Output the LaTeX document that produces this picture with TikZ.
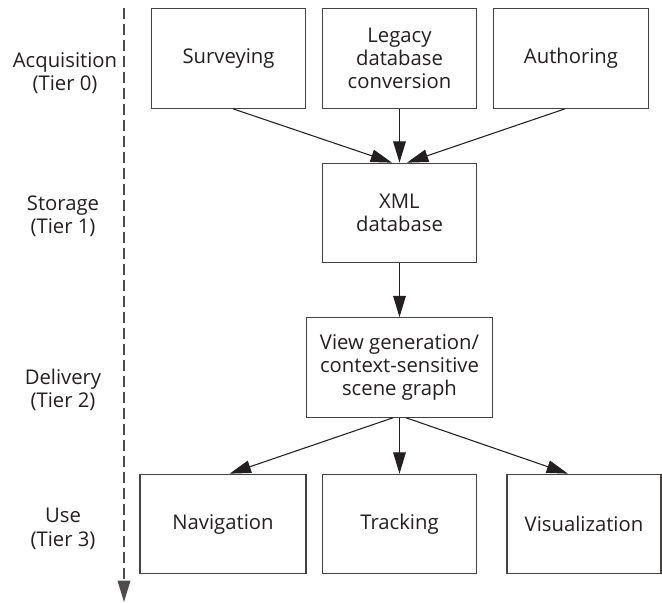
\documentclass[tikz,border=0pt]{standalone}
\usepackage{fontspec}
\setmainfont{Open Sans}
\usetikzlibrary{arrows.meta}
\usetikzlibrary{positioning}

\definecolor{ink}{HTML}{231F20}

\begin{document}
\begin{tikzpicture}[x=0.75pt,y=-0.75pt,
                    every node/.style={text=ink,
                      font=\fontsize{15.2}{17.5}\selectfont,
                      align=center},
                    box/.style={draw=ink!85,
                      line width=0.9pt,
                      rectangle,
                      minimum width = 116pt,
                      minimum height = 74.6pt},
                    arr/.style={draw=ink,line width=0.8pt,
                      -{Triangle[length=16pt,width=9.5pt]}}]
\useasboundingbox (0,0) rectangle (662,603);
% tier axis
\coordinate (top) at (124,8);
\coordinate (bot) at (124,602);
\draw[arr,dash pattern=on 8pt off 4pt,draw=ink!80] (top) -- (bot);
\node (t0) at (65,73) {Acquisition\\(Tier 0)};
\node (t1) at (63,216) {Storage\\(Tier 1)};
\node (t2) at (63,390) {Delivery\\(Tier 2)};
\node (t3) at (63,529) {Use\\(Tier 3)};
% tier 0
\node (s) [box] at (228.5,58.5) {Surveying};
\node (l) [box] at (399.5,58.5) {Legacy\\database\\conversion};
\node (a) [box] at (571,58.5) {Authoring};
% tier 1 and 2
\node (x) [box] at (399.5,213) {XML\\database};
\node (v) [box,minimum width=140pt] at (399.5,367.5)
  {View generation/\\context-sensitive\\scene graph};
% tier 3
\node (n) [box,minimum width=124.5pt] at (223,524) {Navigation};
\node (t) [box] at (399.5,524) {Tracking};
\node (z) [box,minimum width=115.5pt] at (584,524) {Visualization};
\draw[arr] ([xshift=3.4pt]s.south) -- ([xshift=-5.6pt]x.north);
\draw[arr] (l) -- (x);
\draw[arr] ([xshift=-4.5pt]a.south) -- ([xshift=5.6pt]x.north);
\draw[arr] (x) -- (v);
\draw[arr] ([xshift=-5pt]v.south) -- ([xshift=5pt]n.north);
\draw[arr] (v) -- (t);
\draw[arr] ([xshift=5pt]v.south) -- ([xshift=-12pt]z.north);
\end{tikzpicture}
\end{document}
